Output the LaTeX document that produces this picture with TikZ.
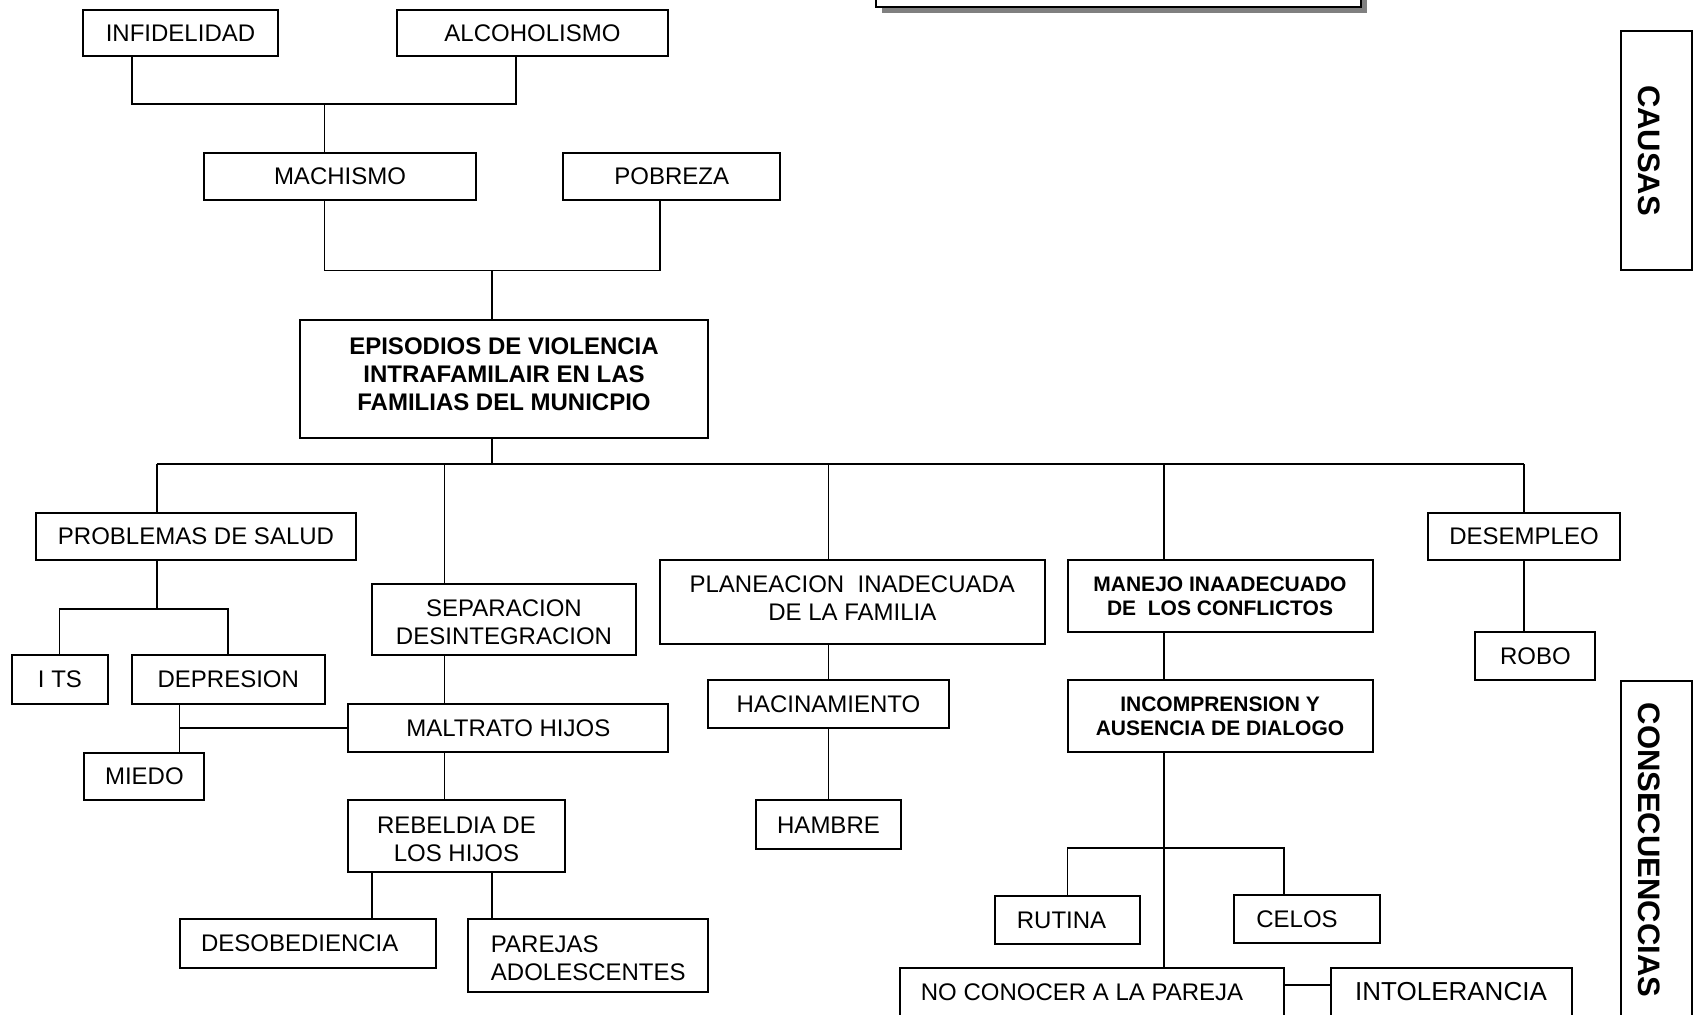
\documentclass[tikz,border=0pt]{standalone}
\usepackage{fontspec}
\setmainfont{Liberation Sans}
\usetikzlibrary{shadows}
\newcommand{\mylines}[3]{\raisebox{#1}[\height][\depth]{\begin{tabular}{@{}#2@{}}#3\end{tabular}}}
\begin{document}
\begin{tikzpicture}[x=0.5pt,y=-0.5pt,
  bx/.style={draw, line width=1pt, inner sep=0pt, align=center, font=\fontsize{12}{14}\selectfont},
  bb/.style={bx, font=\fontsize{12}{14}\selectfont\bfseries},
  bs/.style={bx, font=\fontsize{10.5}{12}\selectfont\bfseries},
  vt/.style={draw, line width=1pt, inner sep=0pt, rotate=-90, font=\fontsize{15.5}{18}\selectfont\bfseries},
  sz/.style 2 args={minimum width=#1*0.5pt, minimum height=#2*0.5pt},
  ln/.style={line width=0.9pt}]
\useasboundingbox (0,0) rectangle (1696,1014);
% title box (cut off at top)
\node[draw, fill=white, line width=1.3pt, inner sep=0pt, sz={485}{80},
  drop shadow={shadow xshift=3pt, shadow yshift=-3pt, fill=black!50, opacity=1}] (title) at (1118.5,-33) {};
% causes
\node[bx, sz={195}{46}] (infid) at (180.5,33) {INFIDELIDAD};
\node[bx, sz={271}{46}] (alcoh) at (532.5,33) {ALCOHOLISMO};
\node[bx, sz={272}{47.5}] (mach) at (340,176.3) {MACHISMO};
\node[bx, sz={216.5}{47.5}] (pobr) at (671.7,176.3) {POBREZA};
\node[bb, sz={408}{118}] (epis) at (504,379) {\mylines{1.1pt}{c}{EPISODIOS DE VIOLENCIA\\INTRAFAMILAIR EN LAS\\FAMILIAS DEL MUNICPIO}};
% consequences
\node[bx, sz={320}{47.6}] (prob) at (196,536.5) {PROBLEMAS DE SALUD};
\node[bx, sz={96}{48.7}] (its) at (60,679.7) {I TS};
\node[bx, sz={192.5}{48.7}] (depr) at (228.3,679.7) {DEPRESION};
\node[bx, sz={120}{47.6}] (miedo) at (144.4,776.6) {MIEDO};
\node[bx, sz={264}{71.3}] (sep) at (504,619.7) {\mylines{-2.7pt}{c}{SEPARACION\\DESINTEGRACION}};
\node[bx, sz={320}{47.6}] (malt) at (508.3,727.9) {MALTRATO HIJOS};
\node[bx, sz={216.3}{71.4}] (rebel) at (456.5,836.1) {\mylines{-2.7pt}{c}{REBELDIA DE\\LOS HIJOS}};
\node[bx, sz={256.4}{48.6}] (desob) at (307.7,943.7) {DESOBEDIENCIA\hspace{8pt}};
\node[bx, sz={240}{72.4}] (parej) at (588.3,955.6) {\mylines{-2.7pt}{l}{PAREJAS\\ADOLESCENTES}};
\node[bx, sz={385}{83.3}] (plan) at (852.3,602) {\mylines{0.5pt}{c}{PLANEACION\ \ INADECUADA\\DE LA FAMILIA}};
\node[bx, sz={240.2}{47.6}] (hacin) at (828.5,704.1) {HACINAMIENTO};
\node[bx, sz={145}{48.7}] (hambre) at (828.5,824.8) {HAMBRE};
\node[bs, sz={305}{71.4}] (manejo) at (1220,596) {MANEJO INAADECUADO\\DE\ \ LOS CONFLICTOS};
\node[bs, sz={305}{71.4}] (incomp) at (1220,716) {INCOMPRENSION Y\\AUSENCIA DE DIALOGO};
\node[bx, sz={145}{48.6}] (rutina) at (1067.5,919.9) {RUTINA\hspace{6pt}};
\node[bx, sz={146}{48.7}] (celos) at (1307,918.9) {CELOS\hspace{10pt}};
\node[bx, sz={384}{48}] (nocon) at (1092,992) {NO CONOCER A LA PAREJA\hspace{10pt}};
\node[bx, sz={241}{48}, font=\fontsize{13}{15}\selectfont] (intol) at (1451,992) {INTOLERANCIA};
\node[bx, sz={192.5}{47.6}] (desem) at (1524,536.5) {DESEMPLEO};
\node[bx, sz={120}{48.6}] (robo) at (1535.4,656) {ROBO};
% side labels
\node[vt, sz={239}{71}] (causas) at (1656.5,150.5) {\raisebox{-3.5pt}[\height][\depth]{CAUSAS}};
\node[vt, sz={338}{71}] (consec) at (1656.5,850) {\raisebox{-3.5pt}[\height][\depth]{CONSECUENCCIAS}};
% junction coordinates
\coordinate (c1L) at (132,103.8);
\coordinate (c1R) at (515.9,103.8);
\coordinate (c1M) at (324.5,103.8);
\coordinate (c2L) at (324.5,270.4);
\coordinate (c2R) at (659.8,270.4);
\coordinate (c2M) at (492.1,270.4);
\coordinate (c3M) at (492.1,464);
\coordinate (d1) at (156.8,464);
\coordinate (d2) at (444.5,464);
\coordinate (d3) at (828.5,464);
\coordinate (d4) at (1163.8,464);
\coordinate (d5) at (1524,464);
\coordinate (c4) at (156.8,608.9);
\coordinate (c4L) at (59.5,608.9);
\coordinate (c4R) at (228.2,608.9);
\coordinate (c5) at (179.5,727.9);
\coordinate (e1) at (372.1,871.8);
\coordinate (e2) at (492.1,871.8);
\coordinate (f0) at (1163.8,848);
\coordinate (fL) at (1067.5,848);
\coordinate (fR) at (1283.9,848);
\coordinate (g) at (1283.9,985.3);
% connectors
\draw[ln] (infid.south -| c1L) -- (c1L) -- (c1R) -- (alcoh.south -| c1R);
\draw[ln] (c1M) -- (mach.north -| c1M);
\draw[ln] (mach.south -| c2L) -- (c2L) -- (c2R) -- (pobr.south -| c2R);
\draw[ln] (c2M) -- (epis.north -| c2M);
\draw[ln] (epis.south -| c3M) -- (c3M);
\draw[ln] (d1) -- (d5);
\draw[ln] (d1) -- (prob.north -| d1);
\draw[ln] (d2) -- (sep.north -| d2);
\draw[ln] (d3) -- (plan.north -| d3);
\draw[ln] (d4) -- (manejo.north -| d4);
\draw[ln] (d5) -- (desem.north -| d5);
\draw[ln] (prob.south -| c4) -- (c4);
\draw[ln] (its.north -| c4L) -- (c4L) -- (c4R) -- (depr.north -| c4R);
\draw[ln] (depr.south -| c5) -- (miedo.north -| c5);
\draw[ln] (c5) -- (malt.west);
\draw[ln] (sep.south -| d2) -- (malt.north -| d2);
\draw[ln] (malt.south -| d2) -- (rebel.north -| d2);
\draw[ln] (rebel.south -| e1) -- (desob.north -| e1);
\draw[ln] (rebel.south -| e2) -- (parej.north -| e2);
\draw[ln] (plan.south -| d3) -- (hacin.north -| d3);
\draw[ln] (hacin.south -| d3) -- (hambre.north -| d3);
\draw[ln] (manejo.south -| d4) -- (incomp.north -| d4);
\draw[ln] (incomp.south -| d4) -- (nocon.north -| d4);
\draw[ln] (rutina.north -| fL) -- (fL) -- (fR) -- (celos.north -| fR);
\draw[ln] (nocon.east |- g) -- (intol.west |- g);
\draw[ln] (desem.south -| d5) -- (robo.north -| d5);
\end{tikzpicture}
\end{document}
